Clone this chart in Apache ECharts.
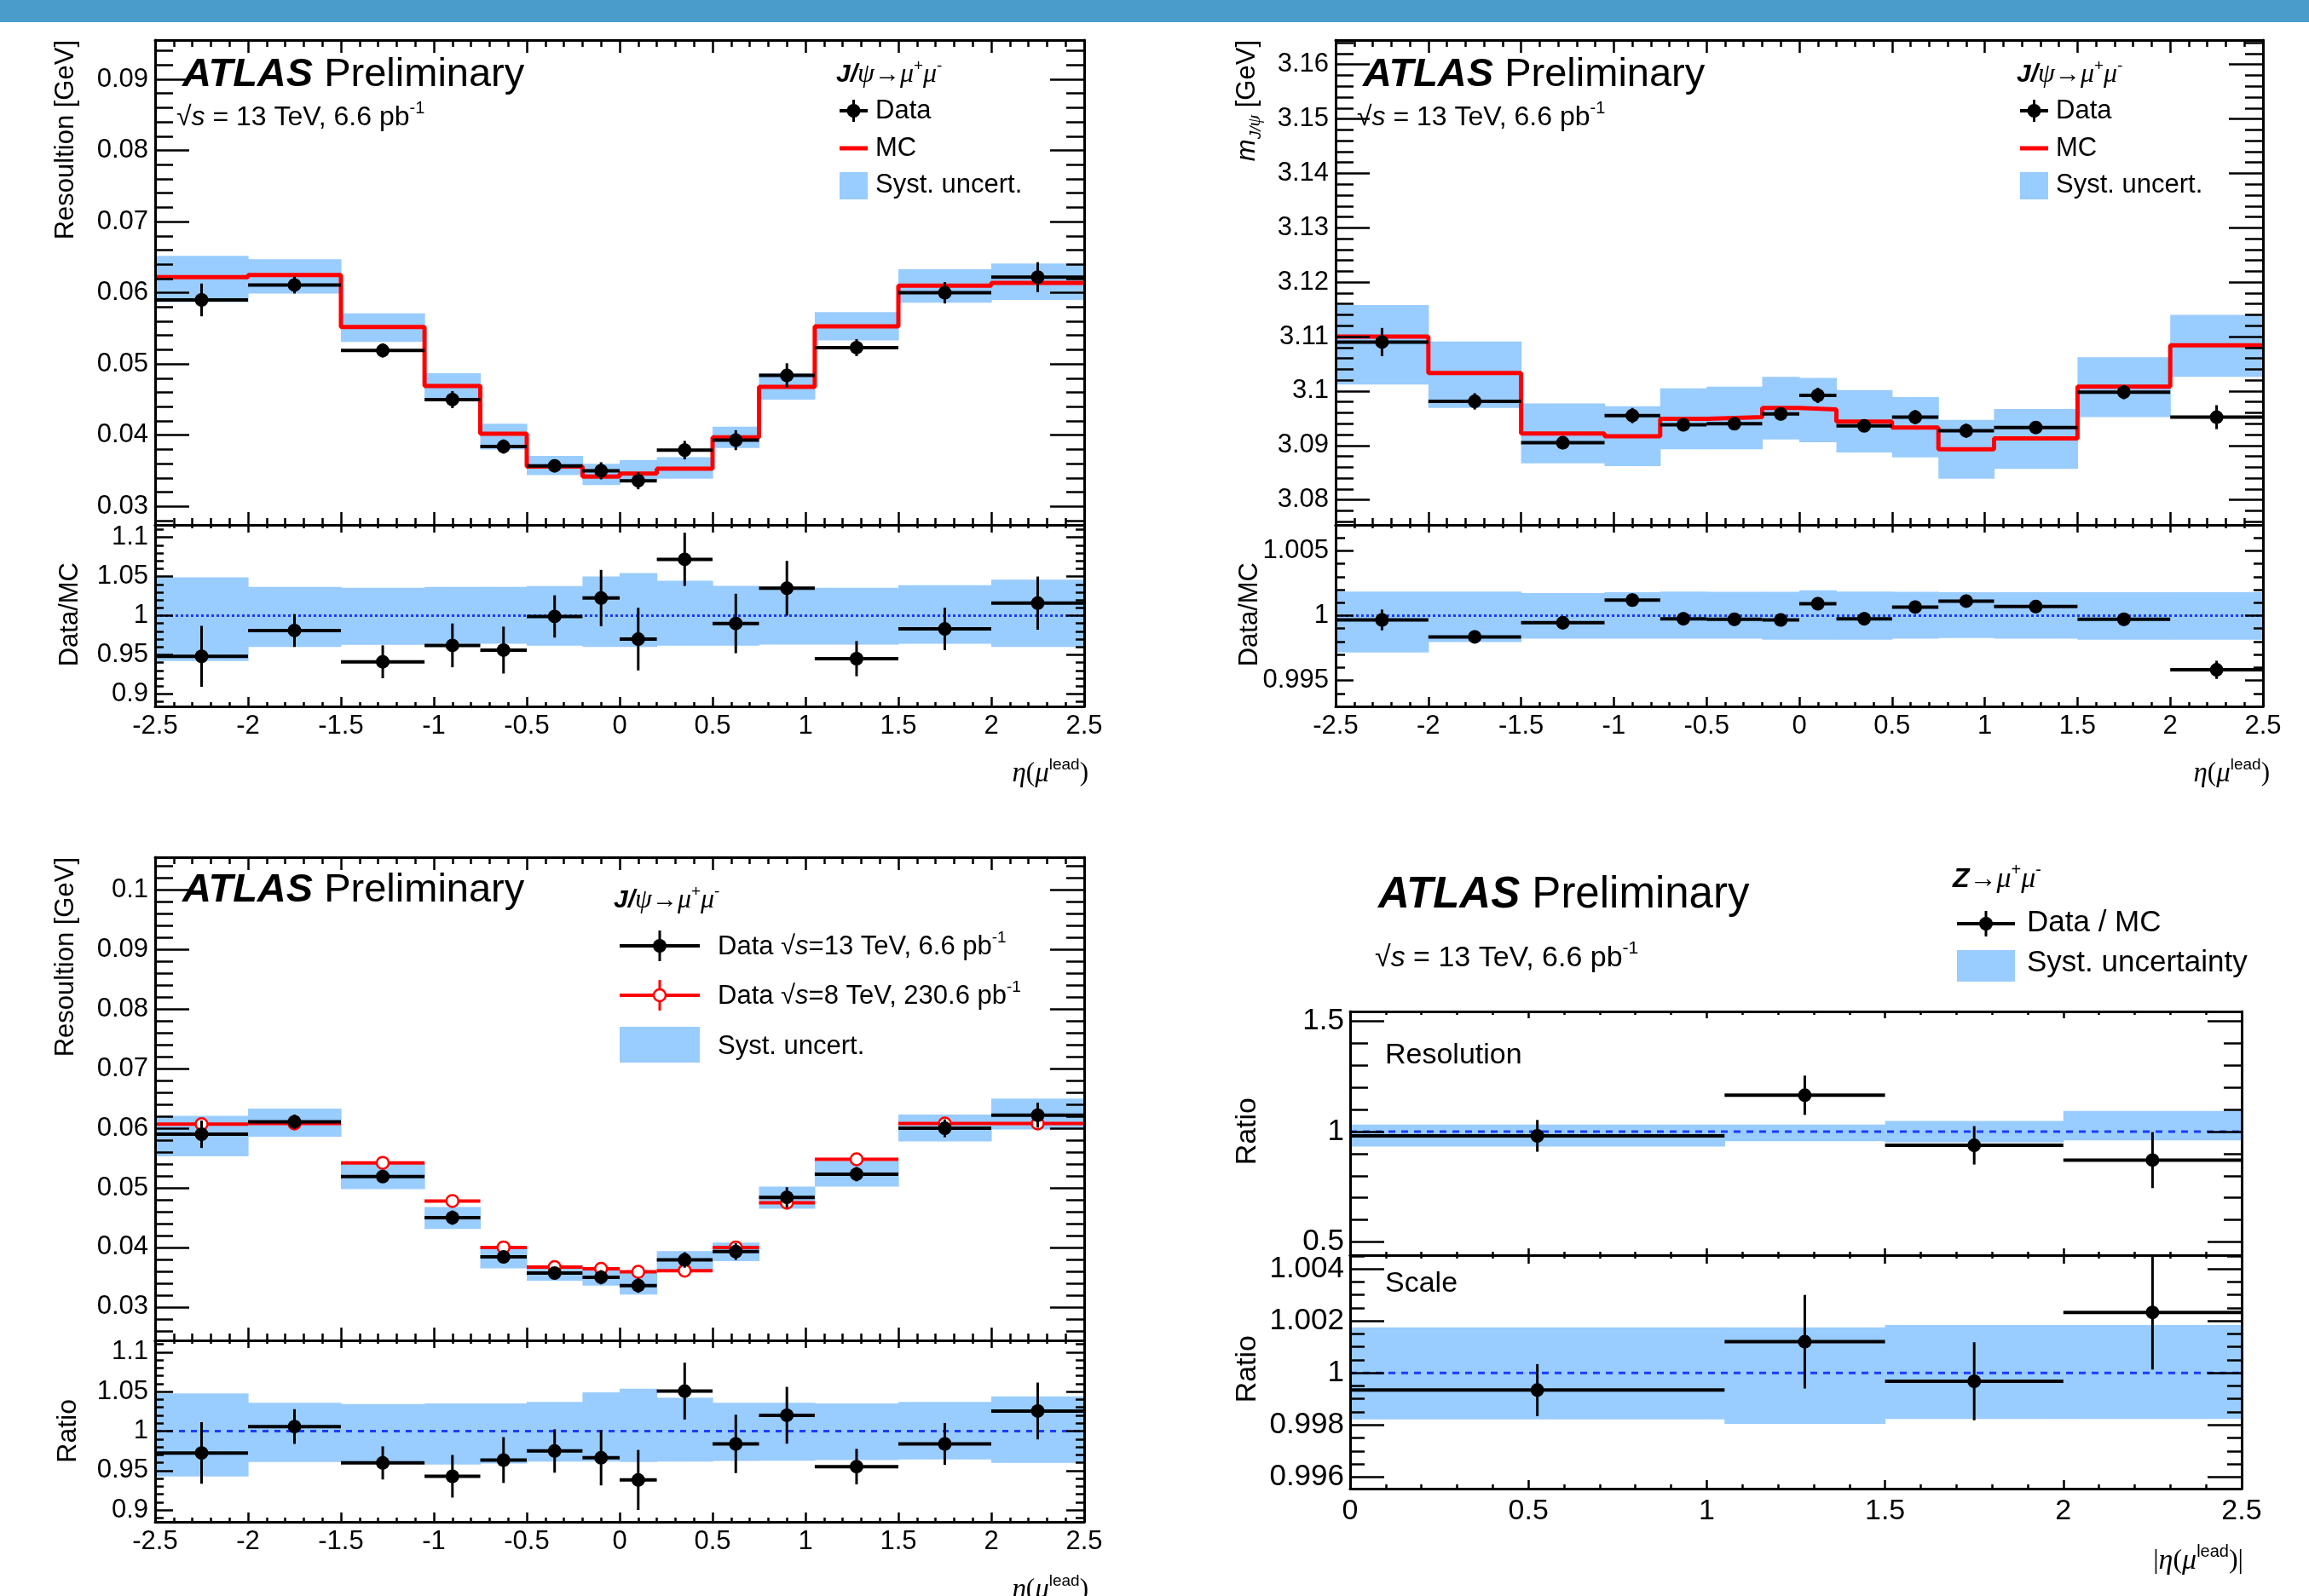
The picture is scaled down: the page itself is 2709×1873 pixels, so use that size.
<!DOCTYPE html>
<html>
<head>
<meta charset="utf-8">
<script src="https://cdn.jsdelivr.net/npm/echarts@6/dist/echarts.min.js"></script>
<style>
  html, body { margin: 0; padding: 0; background: #fff; }
  #chart { width: 2709px; height: 1873px; }
</style>
</head>
<body>
<div id="chart"></div>
<script>
// ---- data ----
const etaEdges = [-2.5, -2, -1.5, -1.05, -0.75, -0.5, -0.2, 0, 0.2, 0.5, 0.75, 1.05, 1.5, 2, 2.5];
const absEtaEdges = [0, 1.05, 1.5, 2, 2.5];

// J/psi resolution, 13 TeV data vs MC (top left, also bottom left)
const resData = [0.0590, 0.0611, 0.0519, 0.0450, 0.0384, 0.0357, 0.0350, 0.0336, 0.0379, 0.0393, 0.0484, 0.0523, 0.0600, 0.0622];
const resDataErr = [0.0023, 0.0012, 0.0010, 0.0012, 0.0010, 0.0008, 0.0012, 0.0012, 0.0013, 0.0014, 0.0017, 0.0012, 0.0015, 0.0021];
const resMC = [0.0622, 0.0625, 0.0552, 0.0469, 0.0402, 0.0356, 0.0342, 0.0346, 0.0353, 0.0397, 0.0468, 0.0553, 0.0610, 0.0614];
const resBandLo = [0.0587, 0.0599, 0.0531, 0.0450, 0.0380, 0.0344, 0.0330, 0.0337, 0.0339, 0.0382, 0.0450, 0.0533, 0.0586, 0.0590];
const resBandHi = [0.0652, 0.0647, 0.0571, 0.0487, 0.0416, 0.0371, 0.0360, 0.0365, 0.0369, 0.0412, 0.0487, 0.0573, 0.0633, 0.0641];
const resRatio = [0.948, 0.981, 0.941, 0.962, 0.956, 0.999, 1.0225, 0.970, 1.072, 0.990, 1.035, 0.945, 0.983, 1.016];
const resRatioErr = [0.039, 0.021, 0.021, 0.028, 0.030, 0.027, 0.036, 0.040, 0.034, 0.038, 0.035, 0.0225, 0.027, 0.034];
const resRatioBandLo = [0.942, 0.960, 0.9626, 0.964, 0.964, 0.9615, 0.960, 0.960, 0.9615, 0.9615, 0.963, 0.963, 0.964, 0.960];
const resRatioBandHi = [1.049, 1.0367, 1.0356, 1.0367, 1.0367, 1.0378, 1.050, 1.0545, 1.0447, 1.038, 1.0367, 1.0356, 1.039, 1.046];

// J/psi mass scale (top right)
const massData = [3.1090, 3.0981, 3.0905, 3.0955, 3.0938, 3.0940, 3.0958, 3.0992, 3.0936, 3.0952, 3.0927, 3.0933, 3.0998, 3.0952];
const massDataErr = [0.0026, 0.0015, 0.0012, 0.0014, 0.0012, 0.0010, 0.0012, 0.0014, 0.0010, 0.0013, 0.0013, 0.0010, 0.0013, 0.0022];
const massMC = [3.1100, 3.1033, 3.0922, 3.0917, 3.0949, 3.0952, 3.0969, 3.0966, 3.0944, 3.0933, 3.0893, 3.0913, 3.1008, 3.1084];
const massBandLo = [3.1012, 3.0969, 3.0867, 3.0862, 3.0893, 3.0893, 3.0911, 3.0906, 3.0887, 3.0878, 3.0839, 3.0857, 3.0952, 3.1026];
const massBandHi = [3.1158, 3.1091, 3.0977, 3.0972, 3.1005, 3.1008, 3.1026, 3.1024, 3.1002, 3.0989, 3.0947, 3.0967, 3.1062, 3.1140];
const massRatio = [0.99967, 0.99836, 0.99945, 1.0012, 0.99976, 0.99972, 0.99967, 1.00092, 0.99976, 1.00066, 1.00112, 1.0007, 0.99972, 0.99582];
const massRatioErr = [0.0008, 0.0005, 0.0005, 0.0005, 0.0005, 0.0005, 0.0005, 0.0005, 0.0005, 0.0005, 0.0005, 0.0005, 0.0005, 0.0007];
const massRatioBandLo = [0.99716, 0.99796, 0.99823, 0.99823, 0.99823, 0.99823, 0.99814, 0.99814, 0.99814, 0.99823, 0.99827, 0.99823, 0.99814, 0.99814];
const massRatioBandHi = [1.00186, 1.00186, 1.00175, 1.0018, 1.00186, 1.00184, 1.00184, 1.00195, 1.00186, 1.00184, 1.0018, 1.0018, 1.0018, 1.0018];

// 13 TeV vs 8 TeV resolution (bottom left)
const res8TeV = [0.0607, 0.0608, 0.0542, 0.0478, 0.0400, 0.0367, 0.0364, 0.0359, 0.0361, 0.0400, 0.0475, 0.0548, 0.0608, 0.0608];
const res13BandLo = [0.0553, 0.0586, 0.0498, 0.0431, 0.0365, 0.0344, 0.0336, 0.0321, 0.0361, 0.0377, 0.0465, 0.0502, 0.0578, 0.0598];
const res13BandHi = [0.0621, 0.0633, 0.0542, 0.0468, 0.0400, 0.0370, 0.0365, 0.0359, 0.0394, 0.0408, 0.0502, 0.0545, 0.0623, 0.0650];
const runRatio = [0.9723, 1.0058, 0.9597, 0.9428, 0.9633, 0.9748, 0.9662, 0.9381, 1.0507, 0.9838, 1.0201, 0.9550, 0.9838, 1.0255];
const runRatioErr = [0.039, 0.022, 0.021, 0.027, 0.029, 0.0275, 0.035, 0.038, 0.036, 0.037, 0.036, 0.0225, 0.0265, 0.036];
const runRatioBandLo = [0.9424, 0.9608, 0.9608, 0.9576, 0.959, 0.9615, 0.9615, 0.9608, 0.9615, 0.9622, 0.9626, 0.9633, 0.964, 0.9597];
const runRatioBandHi = [1.0478, 1.036, 1.0342, 1.035, 1.035, 1.037, 1.049, 1.0536, 1.0424, 1.036, 1.036, 1.035, 1.037, 1.0439];

// Z -> mumu data/MC (bottom right)
const zRes = [0.981, 1.165, 0.938, 0.871];
const zResErr = [0.072, 0.089, 0.087, 0.127];
const zResBandLo = [0.933, 0.957, 0.951, 0.961];
const zResBandHi = [1.032, 1.032, 1.049, 1.094];
const zScale = [0.99934, 1.0012, 0.99968, 1.00233];
const zScaleErr = [0.0010, 0.0018, 0.0015, 0.0022];
const zScaleBandLo = [0.99821, 0.99804, 0.99823, 0.99823];
const zScaleBandHi = [1.00175, 1.00175, 1.00184, 1.00184];

// ---- styles ----
const FONT = '"Liberation Sans", Arial, Helvetica, sans-serif';
const SERIF = '"Liberation Serif", "Times New Roman", serif';
const BAND = '#99ccff';
const RED = '#ff0000';
const UNIT = '#1a3cff';
const LINE = { color: '#000', width: 3 };
const TICK = { color: '#000', width: 2.5 };

function tickFmt(step) {
  return v => {
    const k = v / step;
    if (Math.abs(k - Math.round(k)) > 1e-6) return '';
    return String(parseFloat(v.toFixed(6)));
  };
}

const grids = [], xAxes = [], yAxes = [];

function panel(grid, xs, ys) {
  grids.push(grid);
  const gi = grids.length - 1;
  const xi = xAxes.length, yi = yAxes.length;
  const xBase = {
    gridIndex: gi, type: 'value', min: xs.min, max: xs.max, interval: xs.step, z: 10, silent: true,
    axisLine: { show: true, onZero: false, lineStyle: LINE }, splitLine: { show: false }
  };
  xAxes.push(Object.assign({}, xBase, {
    position: 'bottom',
    axisTick: { show: true, inside: true, length: xs.tickB[0], lineStyle: TICK },
    minorTick: { show: true, splitNumber: 5, length: xs.tickB[1], lineStyle: TICK },
    axisLabel: { show: !!xs.fs, color: '#000', fontFamily: FONT, fontSize: xs.fs || 10, margin: xs.margin || 8, formatter: tickFmt(xs.step) }
  }));
  xAxes.push(Object.assign({}, xBase, {
    position: 'top',
    axisTick: { show: true, inside: true, length: xs.tickT[0], lineStyle: TICK },
    minorTick: { show: true, splitNumber: 5, length: xs.tickT[1], lineStyle: TICK },
    axisLabel: { show: false }
  }));
  const yBase = {
    gridIndex: gi, type: 'value', min: ys.min, max: ys.max, minInterval: ys.step, maxInterval: ys.step, z: 10, silent: true,
    axisLine: { show: true, onZero: false, lineStyle: LINE }, splitLine: { show: false }
  };
  yAxes.push(Object.assign({}, yBase, {
    position: 'left',
    axisTick: { show: true, inside: true, length: ys.tick[0], lineStyle: TICK },
    minorTick: { show: true, splitNumber: ys.minor || 5, length: ys.tick[1], lineStyle: TICK },
    axisLabel: { show: true, color: '#000', fontFamily: FONT, fontSize: ys.fs, margin: ys.margin || 8, formatter: tickFmt(ys.step) }
  }));
  yAxes.push(Object.assign({}, yBase, {
    position: 'right',
    axisTick: { show: true, inside: true, length: ys.tick[0], lineStyle: TICK },
    minorTick: { show: true, splitNumber: ys.minor || 5, length: ys.tick[1], lineStyle: TICK },
    axisLabel: { show: false }
  }));
  return { xi, yi };
}

const etaMain = { min: -2.5, max: 2.5, step: 0.5, tickB: [15, 8], tickT: [15, 8] };
const etaRatio = { min: -2.5, max: 2.5, step: 0.5, tickB: [11, 5], tickT: [9, 4], fs: 31, margin: 8 };

const tlMain = panel({ left: 182, top: 47, width: 1090, height: 569 }, etaMain,
  { min: 0.0274, max: 0.0955, step: 0.01, tick: [40, 21], fs: 31 });
const tlRatio = panel({ left: 182, top: 616, width: 1090, height: 213 }, etaRatio,
  { min: 0.884, max: 1.116, step: 0.05, tick: [21, 10], fs: 31 });
const trMain = panel({ left: 1567, top: 47, width: 1088, height: 569 }, etaMain,
  { min: 3.0754, max: 3.1645, step: 0.01, tick: [40, 21], fs: 31 });
const trRatio = panel({ left: 1567, top: 616, width: 1088, height: 213 }, etaRatio,
  { min: 0.993, max: 1.007, step: 0.005, tick: [21, 11], fs: 31 });
const blMain = panel({ left: 182, top: 1006, width: 1090, height: 567 }, etaMain,
  { min: 0.0244, max: 0.1055, step: 0.01, tick: [40, 21], fs: 31 });
const blRatio = panel({ left: 182, top: 1573, width: 1090, height: 213 }, etaRatio,
  { min: 0.885, max: 1.115, step: 0.05, tick: [21, 10], fs: 31 });
const brRes = panel({ left: 1584, top: 1187, width: 1046, height: 286 },
  { min: 0, max: 2.5, step: 0.5, tickB: [8, 4], tickT: [8, 4] },
  { min: 0.44, max: 1.545, step: 0.5, tick: [40, 21], fs: 35, margin: 7 });
const brScale = panel({ left: 1584, top: 1473, width: 1046, height: 274 },
  { min: 0, max: 2.5, step: 0.5, tickB: [10, 5], tickT: [10, 4], fs: 34, margin: 10 },
  { min: 0.99555, max: 1.00453, step: 0.002, minor: 4, tick: [40, 17], fs: 35, margin: 7 });

// ---- series builders ----
function bandSeries(ax, edges, lo, hi) {
  return {
    type: 'custom', xAxisIndex: ax.xi, yAxisIndex: ax.yi, z: 2, silent: true, clip: true,
    data: lo.map((v, i) => [edges[i], edges[i + 1], v, hi[i]]),
    renderItem(params, api) {
      const a = api.coord([api.value(0), api.value(3)]);
      const b = api.coord([api.value(1), api.value(2)]);
      return { type: 'rect', shape: { x: a[0], y: a[1], width: b[0] - a[0] + 0.6, height: b[1] - a[1] }, style: { fill: BAND } };
    }
  };
}

function stepSeries(ax, edges, vals) {
  const pts = [];
  vals.forEach((v, i) => { pts.push([edges[i], v]); pts.push([edges[i + 1], v]); });
  return {
    type: 'line', xAxisIndex: ax.xi, yAxisIndex: ax.yi, z: 3, silent: true, data: pts,
    symbol: 'none', lineStyle: { color: RED, width: 5 }
  };
}

function unitLine(ax, xmin, xmax, dash) {
  return {
    type: 'line', xAxisIndex: ax.xi, yAxisIndex: ax.yi, z: 3, silent: true,
    data: [[xmin, 1], [xmax, 1]], symbol: 'none',
    lineStyle: { color: UNIT, width: 3, type: dash }
  };
}

function pointSeries(ax, edges, vals, errs, st) {
  return {
    type: 'custom', xAxisIndex: ax.xi, yAxisIndex: ax.yi, z: st.z || 5, silent: true, clip: true,
    data: vals.map((v, i) => [edges[i], edges[i + 1], v, errs ? errs[i] : 0]),
    renderItem(params, api) {
      const lo = api.value(0), hi = api.value(1), v = api.value(2), e = api.value(3);
      const mid = (lo + hi) / 2;
      const a = api.coord([lo, v]), b = api.coord([hi, v]), c = api.coord([mid, v]);
      const kids = [{ type: 'line', shape: { x1: a[0], y1: a[1], x2: b[0], y2: b[1] }, style: { stroke: st.color, lineWidth: 4 } }];
      if (e > 0) {
        const t = api.coord([mid, v + e]), d = api.coord([mid, v - e]);
        kids.push({ type: 'line', shape: { x1: t[0], y1: t[1], x2: d[0], y2: d[1] }, style: { stroke: st.color, lineWidth: 3 } });
      }
      kids.push({ type: 'circle', shape: { cx: c[0], cy: c[1], r: st.open ? 7 : 8 },
        style: st.open ? { fill: '#fff', stroke: st.color, lineWidth: 2.5 } : { fill: st.color } });
      return { type: 'group', children: kids };
    }
  };
}

const black = { color: '#000' };
const series = [
  // top left
  bandSeries(tlMain, etaEdges, resBandLo, resBandHi),
  stepSeries(tlMain, etaEdges, resMC),
  pointSeries(tlMain, etaEdges, resData, resDataErr, black),
  bandSeries(tlRatio, etaEdges, resRatioBandLo, resRatioBandHi),
  unitLine(tlRatio, -2.5, 2.5, [3, 3]),
  pointSeries(tlRatio, etaEdges, resRatio, resRatioErr, black),
  // top right
  bandSeries(trMain, etaEdges, massBandLo, massBandHi),
  stepSeries(trMain, etaEdges, massMC),
  pointSeries(trMain, etaEdges, massData, massDataErr, black),
  bandSeries(trRatio, etaEdges, massRatioBandLo, massRatioBandHi),
  unitLine(trRatio, -2.5, 2.5, [3, 3]),
  pointSeries(trRatio, etaEdges, massRatio, massRatioErr, black),
  // bottom left
  bandSeries(blMain, etaEdges, res13BandLo, res13BandHi),
  pointSeries(blMain, etaEdges, res8TeV, null, { color: RED, open: true, z: 4 }),
  pointSeries(blMain, etaEdges, resData, resDataErr, black),
  bandSeries(blRatio, etaEdges, runRatioBandLo, runRatioBandHi),
  unitLine(blRatio, -2.5, 2.5, [7, 7]),
  pointSeries(blRatio, etaEdges, runRatio, runRatioErr, black),
  // bottom right
  bandSeries(brRes, absEtaEdges, zResBandLo, zResBandHi),
  unitLine(brRes, 0, 2.5, [8, 7]),
  pointSeries(brRes, absEtaEdges, zRes, zResErr, black),
  bandSeries(brScale, absEtaEdges, zScaleBandLo, zScaleBandHi),
  unitLine(brScale, 0, 2.5, [8, 7]),
  pointSeries(brScale, absEtaEdges, zScale, zScaleErr, black)
];

// ---- texts and legend keys ----
function R(fs) {
  const lh = Math.round(fs * 1.3), s = Math.round(fs * 0.62);
  return {
    n: { fontFamily: FONT, fontSize: fs, fill: '#000', lineHeight: lh },
    i: { fontFamily: FONT, fontSize: fs, fontStyle: 'italic', fill: '#000', lineHeight: lh },
    b: { fontFamily: FONT, fontSize: fs, fontWeight: 'bold', fontStyle: 'italic', fill: '#000', lineHeight: lh },
    g: { fontFamily: SERIF, fontSize: Math.round(fs * 1.05), fontStyle: 'italic', fill: '#000', lineHeight: lh },
    gn: { fontFamily: SERIF, fontSize: fs, fill: '#000', lineHeight: lh },
    sp: { fontFamily: FONT, fontSize: s, fill: '#000', verticalAlign: 'top', lineHeight: s },
    sb: { fontFamily: FONT, fontSize: s, fontStyle: 'italic', fill: '#000', verticalAlign: 'bottom', lineHeight: s },
    sbg: { fontFamily: SERIF, fontSize: Math.round(fs * 0.7), fontStyle: 'italic', fill: '#000', verticalAlign: 'bottom', lineHeight: Math.round(fs * 0.7) }
  };
}
function gText(x, y, text, fs, align, rot) {
  return { type: 'text', x, y, rotation: rot || 0, z: 100, silent: true,
    style: { text, rich: R(fs), align: align || 'left', verticalAlign: 'middle', fill: '#000', fontFamily: FONT, fontSize: fs } };
}
function gLine(x1, y1, x2, y2, color, w) {
  return { type: 'line', z: 100, silent: true, shape: { x1, y1, x2, y2 }, style: { stroke: color, lineWidth: w } };
}
function gDot(cx, cy, open) {
  return { type: 'circle', z: 101, silent: true, shape: { cx, cy, r: open ? 7 : 8 },
    style: open ? { fill: '#fff', stroke: RED, lineWidth: 2.5 } : { fill: '#000' } };
}
function gRect(x, y, w, h) {
  return { type: 'rect', z: 100, silent: true, shape: { x, y, width: w, height: h }, style: { fill: BAND } };
}

const UP = Math.PI / 2;
const atlas = '{b|ATLAS}{n| Preliminary}';
const sqrtS = '{n|√}{i|s}{n| = 13 TeV, 6.6 pb}{sp|-1}';
const jpsi = '{b|J/}{g|ψ}{n|→}{g|μ}{sp|+}{g|μ}{sp|-}';
const etaTitle = '{g|η}{gn|(}{g|μ}{sp|lead}{gn|)}';

const graphics = [{ type: 'rect', z: 100, silent: true, shape: { x: 0, y: 0, width: 2709, height: 26 }, style: { fill: '#4a9ccb' } }];

// top row: same layout on both panels
[0, 1385].forEach((dx, k) => {
  graphics.push(
    gText(214 + dx, 88, atlas, 47),
    gText(207 + dx, 138, sqrtS, 32),
    gText(981 + dx, 88, jpsi, 30),
    gLine(985 + dx, 130, 1018 + dx, 130, '#000', 4),
    gLine(1001.5 + dx, 117, 1001.5 + dx, 143, '#000', 3),
    gDot(1001.5 + dx, 130, false),
    gText(1027 + dx, 130, '{n|Data}', 31),
    gLine(985 + dx, 174, 1018 + dx, 174, RED, 5),
    gText(1027 + dx, 174, '{n|MC}', 31),
    gRect(985 + dx, 202, 33, 32),
    gText(1027 + dx, 217, '{n|Syst. uncert.}', 31),
    gText(k ? 1466 : 82, 660, '{n|Data/MC}', 31, 'right', UP),
    gText(1277 + dx + (k ? 1 : 0), 908, etaTitle, 31, 'right')
  );
});
graphics.push(
  gText(77, 47, '{n|Resoultion [GeV]}', 31, 'right', UP),
  gText(1463, 47, '{i|m}{sb|J/}{sbg|ψ}{n| [GeV]}', 31, 'right', UP)
);

// bottom left
graphics.push(
  gText(214, 1045, atlas, 47),
  gText(720, 1057, jpsi, 30),
  gLine(727, 1110, 821, 1110, '#000', 4),
  gLine(774, 1092, 774, 1128, '#000', 3),
  gDot(774, 1110, false),
  gText(842, 1111, '{n|Data √}{i|s}{n|=13 TeV, 6.6 pb}{sp|-1}', 31),
  gLine(727, 1168, 821, 1168, RED, 4),
  gLine(774, 1150, 774, 1186, RED, 3),
  gDot(774, 1168, true),
  gText(842, 1169, '{n|Data √}{i|s}{n|=8 TeV, 230.6 pb}{sp|-1}', 31),
  gRect(727, 1205, 94, 42),
  gText(842, 1228, '{n|Syst. uncert.}', 31),
  gText(77, 1006, '{n|Resoultion [GeV]}', 31, 'right', UP),
  gText(80, 1642, '{n|Ratio}', 32, 'right', UP),
  gText(1277, 1866, etaTitle, 31, 'right')
);

// bottom right
graphics.push(
  gText(1617, 1051, atlas, 51),
  gText(1613, 1125, sqrtS, 34),
  gText(2291, 1032, '{b|Z}{n|→}{g|μ}{sp|+}{g|μ}{sp|-}', 32),
  gLine(2296, 1084, 2364, 1084, '#000', 4),
  gLine(2330, 1069, 2330, 1099, '#000', 3),
  gDot(2330, 1084, false),
  gText(2378, 1083, '{n|Data / MC}', 35),
  gRect(2296, 1115, 68, 37),
  gText(2378, 1130, '{n|Syst. uncertainty}', 35),
  gText(1625, 1239, '{n|Resolution}', 34),
  gText(1625, 1507, '{n|Scale}', 34),
  gText(1464, 1288, '{n|Ratio}', 34, 'right', UP),
  gText(1464, 1567, '{n|Ratio}', 34, 'right', UP),
  gText(2632, 1832, '{gn||}' + etaTitle + '{gn||}', 32, 'right')
);

const chart = echarts.init(document.getElementById('chart'), null, { renderer: 'canvas' });
chart.setOption({
  backgroundColor: '#fff',
  animation: false,
  grid: grids,
  xAxis: xAxes,
  yAxis: yAxes,
  series,
  graphic: { elements: graphics }
});
</script>
</body>
</html>
